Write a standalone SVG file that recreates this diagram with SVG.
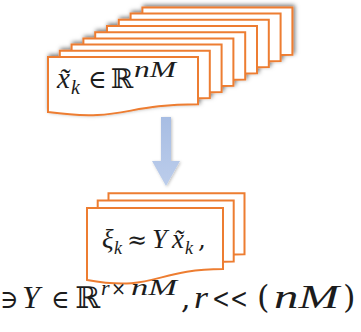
<svg xmlns="http://www.w3.org/2000/svg" width="361" height="332" viewBox="0 0 361 332">
<defs>
  <filter id="sh" x="-20%" y="-30%" width="140%" height="160%">
    <feDropShadow dx="1.5" dy="-1.5" stdDeviation="2" flood-color="#000" flood-opacity="0.55"/>
  </filter>
  <filter id="ash" x="-40%" y="-20%" width="180%" height="140%">
    <feDropShadow dx="1" dy="1" stdDeviation="1.5" flood-color="#000" flood-opacity="0.25"/>
  </filter>
  <linearGradient id="ag" x1="0" y1="0" x2="0" y2="1">
    <stop offset="0" stop-color="#a7bde3"/>
    <stop offset="1" stop-color="#bccdeb"/>
  </linearGradient>
  <path id="pt" d="M0,0 H150 V47.3 C75,47.3 75,65.3 0,55.1 Z"/>
  <path id="pb" d="M0,0 H136 V61 C68,61 68,84.2 0,72 Z"/>
</defs>
<style>
  .pg{fill:#fff;stroke:#ed7d31;stroke-width:2;stroke-linejoin:miter}
  .m{font-family:"Liberation Serif","DejaVu Serif",serif;font-style:italic;fill:#1c1c1c}
  .s{font-family:"DejaVu Serif","Liberation Serif",serif;font-style:normal;fill:#1c1c1c}
</style>
<g id="stack-top" filter="url(#sh)">
  <use href="#pt" class="pg" x="142.4" y="7.4"/>
  <use href="#pt" class="pg" x="130.6" y="13.6"/>
  <use href="#pt" class="pg" x="118.8" y="19.8"/>
  <use href="#pt" class="pg" x="107" y="26"/>
  <use href="#pt" class="pg" x="95.2" y="32.2"/>
  <use href="#pt" class="pg" x="83.4" y="38.4"/>
  <use href="#pt" class="pg" x="71.6" y="44.6"/>
  <use href="#pt" class="pg" x="59.8" y="50.8"/>
  <use href="#pt" class="pg" x="48" y="57"/>
</g>
<g id="label-top">
  <text class="m" x="57" y="88" font-size="29">x̃</text>
  <text class="m" x="71" y="94" font-size="20">k</text>
  <text class="s" x="88" y="88" font-size="25">∈</text>
  <text class="s" x="111" y="88" font-size="27">ℝ</text>
  <text class="m" x="134" y="77" font-size="23" textLength="42" lengthAdjust="spacingAndGlyphs">nM</text>
</g>
<g id="connectors">
  <path d="M161,117 H171 V161 H180 L166,186 L152,161 H161 Z" fill="url(#ag)" filter="url(#ash)"/>
</g>
<g id="stack-bottom">
  <use href="#pb" class="pg" x="108.5" y="193.2"/>
  <use href="#pb" class="pg" x="97.7" y="200.6"/>
  <use href="#pb" class="pg" x="87" y="208"/>
</g>
<g id="label-bottom">
  <text class="m" x="102" y="248" font-size="27">ξ</text>
  <text class="m" x="114" y="254" font-size="18">k</text>
  <text class="s" x="127" y="248" font-size="24">≈</text>
  <text class="m" x="152" y="248" font-size="27">Y</text>
  <text class="m" x="172" y="248" font-size="27">x̃</text>
  <text class="m" x="185" y="254" font-size="18">k</text>
  <text class="s" x="198" y="248" font-size="25">,</text>
</g>
<g id="condition">
  <text class="s" x="0" y="308" font-size="25">∋</text>
  <text class="m" x="22" y="308" font-size="32">Y</text>
  <text class="s" x="51" y="308" font-size="25">∈</text>
  <text class="s" x="75" y="308" font-size="30">ℝ</text>
  <text class="m" x="101" y="295" font-size="22">r</text>
  <text class="s" x="111" y="295" font-size="18">×</text>
  <text class="m" x="131" y="295" font-size="24" textLength="46" lengthAdjust="spacingAndGlyphs">nM</text>
  <text class="s" x="181" y="308" font-size="30">,</text>
  <text class="m" x="194" y="308" font-size="32" textLength="14" lengthAdjust="spacingAndGlyphs">r</text>
  <text class="s" x="212" y="308" font-size="27" textLength="36" lengthAdjust="spacingAndGlyphs">&lt;&lt;</text>
  <text class="s" x="257" y="308" font-size="32">(</text>
  <text class="m" x="274" y="308" font-size="34" textLength="65" lengthAdjust="spacingAndGlyphs">nM</text>
  <text class="s" x="343" y="308" font-size="32">)</text>
</g>
</svg>
